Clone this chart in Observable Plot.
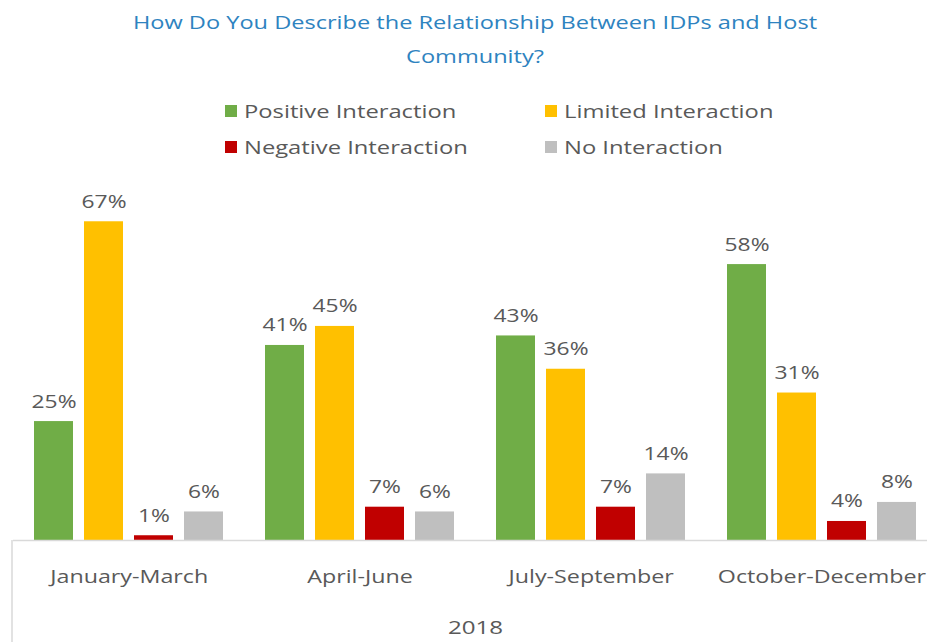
<!DOCTYPE html>
<html>
<head>
<meta charset="utf-8">
<script src="https://cdn.jsdelivr.net/npm/d3@7"></script>
<script src="https://cdn.jsdelivr.net/npm/@observablehq/plot@0.6"></script>
<style>
  html, body { margin: 0; padding: 0; background: #fff; }
  #page { position: relative; width: 927px; height: 642px; overflow: hidden; }
  #header { position: relative; height: 175px; }
  #title { position: absolute; left: 0; top: 5px; width: 950px; text-align: center;
           font-family: "Open Sans", sans-serif; font-size: 19px; line-height: 34px; color: #2E83C0;
           transform: scaleX(1.24); transform-origin: 475px 0; }
  #legend { position: absolute; left: 225px; top: 98px; display: grid;
            grid-template-columns: 320px 320px; row-gap: 10px;
            font-family: "Open Sans", sans-serif; font-size: 19px; color: #595959; }
  .item { display: flex; align-items: center; height: 26px; }
  .sw { width: 12px; height: 12px; margin-right: 7px; flex: none; }
  .lt { display: inline-block; transform: scaleX(1.25); transform-origin: 0 50%; white-space: nowrap; }
</style>
</head>
<body>
<div id="page">
  <div id="header">
    <div id="title"></div>
    <div id="legend"></div>
  </div>
  <div id="chart"></div>
</div>
<script>
const titleLines = ["How Do You Describe the Relationship Between IDPs and Host", "Community?"];
const quarters = ["January-March", "April-June", "July-September", "October-December"];
const series = ["Positive Interaction", "Limited Interaction", "Negative Interaction", "No Interaction"];
const colors = ["#70AD47", "#FFC000", "#C00000", "#BFBFBF"];
const positive = [25, 41, 43, 58];
const limited = [67, 45, 36, 31];
const negative = [1, 7, 7, 4];
const noInteraction = [6, 6, 14, 8];
const yearLabel = "2018";

const values = [positive, limited, negative, noInteraction];
const data = [];
quarters.forEach((q, i) => {
  series.forEach((s, j) => data.push({quarter: q, series: s, value: values[j][i]}));
});

document.getElementById("title").innerHTML = titleLines.join("<br>");
const legend = document.getElementById("legend");
series.forEach((s, j) => {
  const it = document.createElement("div");
  it.className = "item";
  it.innerHTML = `<span class="sw" style="background:${colors[j]}"></span><span class="lt">${s}</span>`;
  legend.appendChild(it);
});

const H = 467, MT = 32, MB = 102;
const chart = Plot.plot({
  width: 927,
  height: H,
  marginTop: MT,
  marginBottom: MB,
  marginLeft: 12,
  marginRight: 0,
  style: {fontFamily: "Open Sans, sans-serif", color: "#595959", background: "white"},
  fx: {domain: quarters, range: [12, 937], padding: 0},
  x: {domain: series, paddingInner: 0.23, paddingOuter: 0.4, axis: null},
  y: {domain: [0, 70], axis: null},
  color: {domain: series, range: colors},
  marks: [
    Plot.barY(data, {fx: "quarter", x: "series", y: "value", fill: "series"}),
    Plot.ruleY([0], {stroke: "#D9D9D9", strokeWidth: 1.5}),
    Plot.text(data, {fx: "quarter", x: "series", y: "value", text: d => `${d.value}%`,
      dy: -14, lineAnchor: "bottom", fontSize: 18, fill: "#595959"}),
    Plot.axisFx({anchor: "bottom", tickSize: 0, tickPadding: 29, fontSize: 19,
      label: yearLabel, labelAnchor: "center", labelOffset: 93})
  ]
});
document.getElementById("chart").appendChild(chart);

// widen glyphs horizontally around each text's own centre (local coordinates)
d3.select(chart).selectAll("text").each(function() {
  const el = this;
  const g = el.closest("g[aria-label]");
  const isTick = g && /tick label/.test(g.getAttribute("aria-label"));
  const k = isTick ? 1.225 : 1.27;
  const b = el.getBBox();
  const cx = b.x + b.width / 2;
  const t = el.getAttribute("transform") || "";
  el.setAttribute("transform", `${t} translate(${cx},0) scale(${k},1) translate(${-cx},0)`);
});

const y0 = chart.scale("y").apply(0);
d3.select(chart).append("line")
  .attr("x1", 12).attr("x2", 12).attr("y1", y0).attr("y2", H)
  .attr("stroke", "#D9D9D9").attr("stroke-width", 1.5);
</script>
</body>
</html>
